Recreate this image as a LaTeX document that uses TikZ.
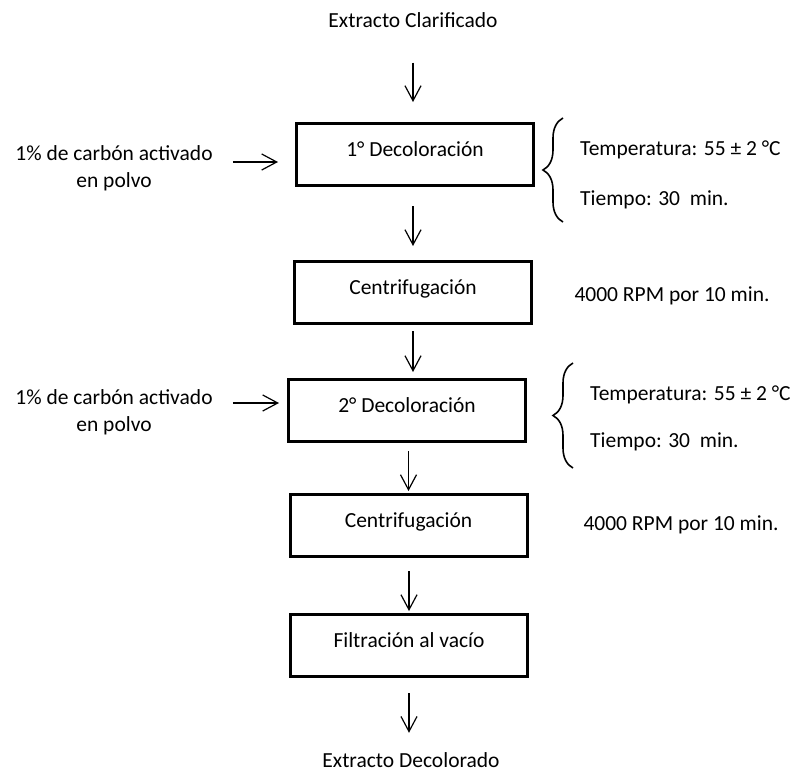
\documentclass[tikz,border=0pt]{standalone}
\usepackage{fontspec}
\setmainfont{Carlito}
\usetikzlibrary{arrows.meta,positioning,decorations.pathreplacing}

\begin{document}
\begin{tikzpicture}[
  x=1pt, y=-1pt,
  every node/.style={font=\fontsize{21.5}{27}\selectfont, inner sep=0pt},
  box/.style={draw, line width=3pt, minimum width=237pt, minimum height=62pt,
    text height=14pt, text depth=10.75pt},
  arr/.style={-{Straight Barb[length=15pt,width=16pt]}, line width=1.2pt},
  brc/.style={decorate, decoration={brace, amplitude=20pt}, line width=1.6pt},
  side/.style={align=center},
  cond/.style={align=left, anchor=west}
]
  \useasboundingbox (0,0) rectangle (795,774);
  \node (top) at (413,20) {Extracto Clarificado};
  \node[box] (dec1) at (415,154.5) {1° Decoloración};
  \node[box] (cen1) at (413,292.5) {Centrifugación};
  \node[box] (dec2) at (407,410.5) {2° Decoloración};
  \node[box] (cen2) at (408.5,525.5) {Centrifugación};
  \node[box] (fil) at (409,645.5) {Filtración al vacío};
  \node (bot) at (411,760) {Extracto Decolorado};

  \node[side] (car1) at (114,168) {1\% de carbón activado\\en polvo};
  \node[side] (car2) at (114,412.5) {1\% de carbón activado\\en polvo};
  \node[cond] (cond1) at (580,175) {Temperatura: 55 ± 2 °C\\[23pt]Tiempo: 30~ min.};
  \node[cond] (cond2) at (590,418.5) {Temperatura: 55 ± 2 °C\\[20pt]Tiempo: 30~ min.};
  \node (rpm1) at (672,295.5) {4000 RPM por 10 min.};
  \node (rpm2) at (681,524.5) {4000 RPM por 10 min.};

  \draw[arr, shorten <=35pt, shorten >=20pt] (top.south) -- (top.south |- dec1.north);
  \draw[arr, shorten <=19pt, shorten >=14pt] (cen1.north |- dec1.south) -- (cen1.north);
  \draw[arr, shorten <=6pt, shorten >=6pt] (cen1.south) -- (cen1.south |- dec2.north);
  \draw[arr, shorten <=8pt, shorten >=2pt] (cen2.north |- dec2.south) -- (cen2.north);
  \draw[arr, shorten <=13pt, shorten >=2pt] (fil.north |- cen2.south) -- (fil.north);
  \draw[arr, shorten <=15pt, shorten >=19.5pt] (fil.south) -- (fil.south |- bot.north);

  \draw[arr, shorten <=20pt, shorten >=17pt] ([yshift=6pt]car1.east) -- ([yshift=6pt]car1.east -| dec1.west);
  \draw[arr, shorten <=20pt, shorten >=8pt] ([yshift=9.5pt]car2.east) -- ([yshift=9.5pt]car2.east -| dec2.west);

  \draw[brc] ([xshift=-17pt,yshift=-47pt]cond1.west) -- ([xshift=-17pt,yshift=57pt]cond1.west);
  \draw[brc] ([xshift=-17pt,yshift=-49.5pt]cond2.west) -- ([xshift=-17pt,yshift=55.5pt]cond2.west);
\end{tikzpicture}
\end{document}
